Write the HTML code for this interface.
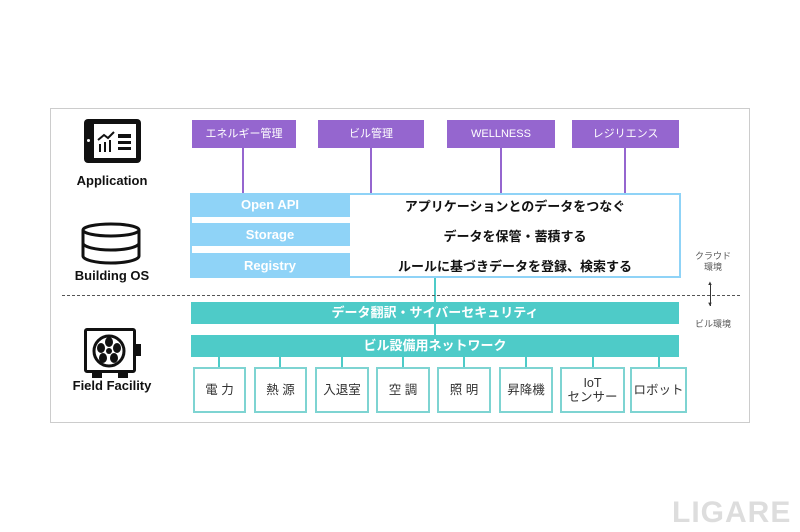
<!DOCTYPE html>
<html><head><meta charset="utf-8"><style>
body{margin:0;width:800px;height:532px;background:#fff;position:relative;overflow:hidden;font-family:"Liberation Sans","Noto Sans CJK JP",sans-serif}
div{position:absolute;box-sizing:border-box}
.frame{left:50px;top:108px;width:700px;height:315px;border:1px solid #ccc}
.p{background:#9566cf;color:#fff;font-size:11px;text-align:center;line-height:28px;top:120px;height:28px}
.vl{width:2px;background:#9566cf;top:148px;height:45px}
.lc{left:190px;width:160px;background:#8fd3f7;color:#fff;font-weight:bold;font-size:13px;text-align:center}
.rt{left:350px;width:330px;text-align:center;font-weight:bold;font-size:13px;color:#111}
.tb{left:191px;width:488px;height:22px;background:#4ecbc8;color:#fff;font-weight:bold;font-size:13px;text-align:center;line-height:22px}
.bx{top:367px;height:46px;border:2px solid #7ed4d2;font-size:12.5px;color:#333;text-align:center;display:flex;align-items:center;justify-content:center;line-height:14px}
.tk{top:357px;height:10px;width:2px;background:#4ecbc8}
.lab{width:110px;left:57px;text-align:center;font-weight:bold;font-size:13px;color:#111}
.sm{font-size:9px;color:#555;text-align:center;width:50px;left:688px;line-height:11px}
</style></head><body>
<div class="frame"></div>
<div class="p" style="left:192px;width:104px">エネルギー管理</div>
<div class="p" style="left:318px;width:106px">ビル管理</div>
<div class="p" style="left:447px;width:108px">WELLNESS</div>
<div class="p" style="left:572px;width:107px">レジリエンス</div>
<div class="vl" style="left:242px"></div><div class="vl" style="left:370px"></div><div class="vl" style="left:500px"></div><div class="vl" style="left:624px"></div>
<div style="left:190px;top:193px;width:491px;height:85px;border:2px solid #8fd3f7"></div>
<div class="lc" style="top:193px;height:24px;line-height:24px">Open API</div>
<div class="lc" style="top:223px;height:23px;line-height:23px">Storage</div>
<div class="lc" style="top:253px;height:25px;line-height:25px">Registry</div>
<div class="rt" style="top:196px">アプリケーションとのデータをつなぐ</div>
<div class="rt" style="top:226px">データを保管・蓄積する</div>
<div class="rt" style="top:256px">ルールに基づきデータを登録、検索する</div>
<div style="left:434px;top:278px;width:2px;height:57px;background:#4ecbc8"></div>
<div style="left:62px;top:295px;width:678px;border-top:1px dashed #555"></div>
<div class="tb" style="top:302px">データ翻訳・サイバーセキュリティ</div>
<div class="tb" style="top:335px">ビル設備用ネットワーク</div>
<div class="tk" style="left:218px"></div><div class="tk" style="left:279px"></div><div class="tk" style="left:341px"></div><div class="tk" style="left:402px"></div><div class="tk" style="left:463px"></div><div class="tk" style="left:525px"></div><div class="tk" style="left:592px"></div><div class="tk" style="left:658px"></div>
<div class="bx" style="left:193px;width:53px">電 力</div>
<div class="bx" style="left:254px;width:53px">熱 源</div>
<div class="bx" style="left:315px;width:54px">入退室</div>
<div class="bx" style="left:376px;width:54px">空 調</div>
<div class="bx" style="left:437px;width:54px">照 明</div>
<div class="bx" style="left:499px;width:54px">昇降機</div>
<div class="bx" style="left:560px;width:65px">IoT<br>センサー</div>
<div class="bx" style="left:630px;width:57px">ロボット</div>
<div class="sm" style="top:251px">クラウド<br>環境</div>
<div style="left:710px;top:284px;width:1px;height:22px;background:#333"></div>
<div style="left:707px;top:281px;font-size:6px;color:#333">▲</div>
<div style="left:707px;top:302px;font-size:6px;color:#333">▼</div>
<div class="sm" style="top:319px">ビル環境</div>
<!-- tablet -->
<div style="left:84px;top:119px;width:57px;height:44px;background:#111;border-radius:4px"></div>
<div style="left:94px;top:124px;width:42px;height:34px;background:#fff"></div>
<div style="left:87px;top:139px;width:3px;height:3px;background:#fff;border-radius:50%"></div>
<svg style="position:absolute;left:96px;top:126px" width="40" height="30"><polyline points="2,14 8,9 12,12 18,6" fill="none" stroke="#111" stroke-width="2"/><rect x="3" y="18" width="2" height="8" fill="#111"/><rect x="8" y="16" width="2" height="10" fill="#111"/><rect x="13" y="14" width="2" height="12" fill="#111"/><rect x="22" y="8" width="13" height="4" fill="#111"/><rect x="22" y="15" width="13" height="3" fill="#111"/><rect x="22" y="21" width="13" height="3" fill="#111"/></svg>
<div class="lab" style="top:173px">Application</div>
<!-- db -->
<svg style="position:absolute;left:80px;top:222px" width="64" height="44"><g fill="#fff" stroke="#111" stroke-width="3"><path d="M3,8 v26 a28,7 0 0 0 56,0 v-26"/><ellipse cx="31" cy="8" rx="28" ry="6"/><path d="M3,21 a28,7 0 0 0 56,0"/></g></svg>
<div class="lab" style="top:268px">Building OS</div>
<!-- fan -->
<div style="left:84px;top:328px;width:52px;height:45px;border:3px solid #111;border-radius:3px;background:#fff"></div>
<div style="left:136px;top:344px;width:5px;height:12px;background:#111"></div>
<div style="left:92px;top:372px;width:10px;height:6px;background:#111"></div>
<div style="left:118px;top:372px;width:10px;height:6px;background:#111"></div>
<svg style="position:absolute;left:91px;top:333px" width="36" height="36"><circle cx="18" cy="18" r="15" fill="none" stroke="#111" stroke-width="3"/><circle cx="18" cy="18" r="3" fill="#111"/><g fill="#111"><ellipse cx="18" cy="9" rx="4" ry="5"/><ellipse cx="26" cy="15" rx="4" ry="5"/><ellipse cx="23" cy="25" rx="4" ry="5"/><ellipse cx="12" cy="25" rx="4" ry="5"/><ellipse cx="10" cy="15" rx="4" ry="5"/></g></svg>
<div class="lab" style="top:378px">Field Facility</div>
<div style="left:672px;top:496px;font-size:30px;color:#ddd;font-weight:bold;letter-spacing:1px">LIGARE</div>
</body></html>
